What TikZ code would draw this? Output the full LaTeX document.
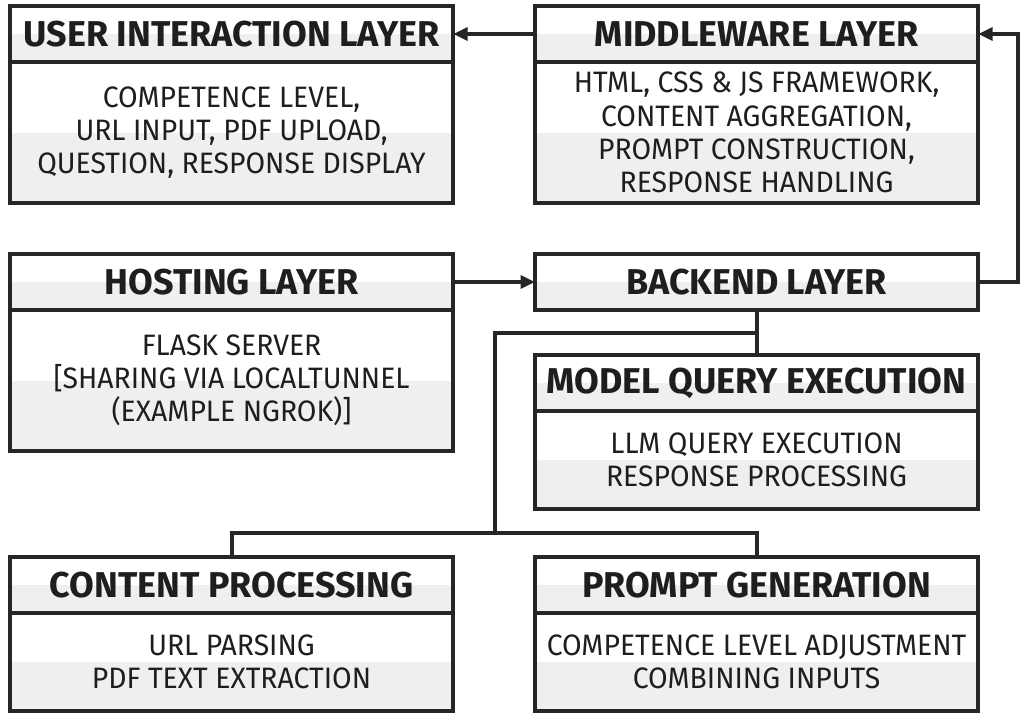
\documentclass[tikz,border=0pt]{standalone}
\usepackage{fontspec}
\setmainfont{Fira Sans}
\newfontfamily\headfont{Fira Sans}[FakeStretch=1.0]
\newfontfamily\bodyfont{Fira Sans}[FakeStretch=0.96]
\usetikzlibrary{positioning,calc,arrows.meta}
\definecolor{frame}{HTML}{262626}
\definecolor{band}{HTML}{EFEFEF}
\tikzset{
  layer box/.style = {
    shape = rectangle,
    align = center,
    draw  = frame,
    fill  = white,
    text  = frame!80!black,
    outer sep = 0pt,
    inner sep = 0pt,
    minimum width = 11.075cm,
    path picture = {\fill[band] (path picture bounding box.west) rectangle (path picture bounding box.south east);}},
  layer head/.style = {
    layer box,
    minimum height = 1.4cm,
    font = \headfont\fontsize{25.5}{30}\selectfont\bfseries},
  layer body/.style = {
    layer box,
    minimum height = #1,
    font = \bodyfont\fontsize{21}{23.6}\selectfont}
}

\begin{document}
\begin{tikzpicture}[x = 0.025cm, y = 0.025cm, line width = 2.8pt, >={Triangle[length=0.36cm, width=0.32cm]}, draw = frame]
  \useasboundingbox (0,0) rectangle (1024,717);
  % left column
  \node[layer head, anchor = north west] at (10,711) (userhead) {USER INTERACTION LAYER};
  \node[layer body = 3.525cm, below = 0pt of userhead] (userbody) {COMPETENCE LEVEL,\\ URL INPUT, PDF UPLOAD,\\ QUESTION, RESPONSE DISPLAY};
  \node[layer head, anchor = north west] at (10,463) (hosthead) {HOSTING LAYER};
  \node[layer body = 3.525cm, below = 0pt of hosthead] (hostbody) {FLASK SERVER\\ {[}SHARING VIA LOCALTUNNEL\\ (EXAMPLE NGROK)]};
  \node[layer head, anchor = north west] at (10,160) (contenthead) {CONTENT PROCESSING};
  \node[layer body = 2.45cm, below = 0pt of contenthead] (contentbody) {URL PARSING\\ PDF TEXT EXTRACTION};
  % right column
  \node[layer head, anchor = north west] at (535,711) (midhead) {MIDDLEWARE LAYER};
  \node[layer body = 3.525cm, below = 0pt of midhead] (midbody) {HTML, CSS \& JS FRAMEWORK,\\ CONTENT AGGREGATION,\\ PROMPT CONSTRUCTION,\\ RESPONSE HANDLING};
  \node[layer head, anchor = north west] at (535,463) (backend) {BACKEND LAYER};
  \node[layer head, anchor = north west] at (535,362) (modelhead) {MODEL QUERY EXECUTION};
  \node[layer body = 2.45cm, below = 0pt of modelhead] (modelbody) {LLM QUERY EXECUTION\\ RESPONSE PROCESSING};
  \node[layer head, anchor = north west] at (535,160) (prompthead) {PROMPT GENERATION};
  \node[layer body = 2.45cm, below = 0pt of prompthead] (promptbody) {COMPETENCE LEVEL ADJUSTMENT\\ COMBINING INPUTS};
  % connectors
  \coordinate (busup) at (495,384);
  \coordinate (busdown) at (495,184);
  \draw[->] (midhead) -- (userhead);
  \draw[->] (hosthead) -- (backend);
  \draw[->] (backend.east) -- ++(40,0) |- (midhead.east);
  \draw (backend.south) -- (modelhead.north);
  \draw (backend.south |- busup) -- (busup) -- (busdown);
  \draw (contenthead.north) |- (busdown) -| (prompthead.north);
\end{tikzpicture}
\end{document}
